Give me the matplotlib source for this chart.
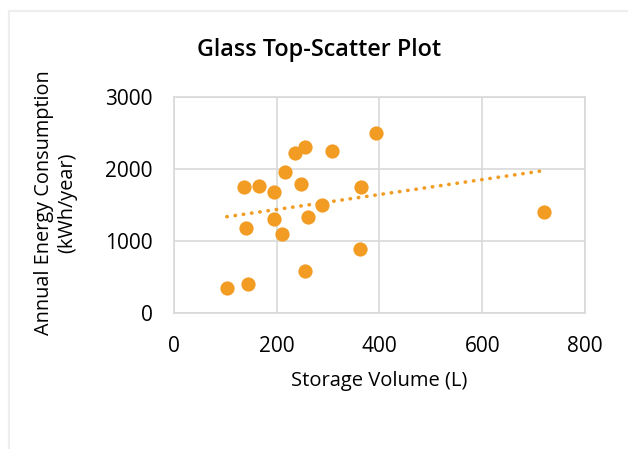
import numpy as np
import matplotlib
matplotlib.use("Agg")
import matplotlib.pyplot as plt
from matplotlib.patches import Rectangle

plt.rcParams['font.family'] = ['Open Sans', 'DejaVu Sans']

# storage volume (L) vs annual energy use (kWh/year)
volume = [393, 256, 235, 307, 217, 136, 165, 194, 248, 365,
          289, 195, 260, 140, 210, 720, 362, 256, 144, 103]
energy = [2500, 2310, 2220, 2255, 1955, 1750, 1765, 1675, 1790, 1755,
          1500, 1310, 1330, 1180, 1090, 1400, 885, 580, 405, 340]

x_ticks = [0, 200, 400, 600, 800]
y_ticks = [0, 1000, 2000, 3000]

orange = '#F39C24'
grid_col = '#D9D9D9'

fig = plt.figure(figsize=(6.28, 4.49), dpi=100)
# chart area border
fig.patches.append(Rectangle((9 / 628, -0.1), 1.2, 1 - 11 / 449 + 0.1,
                             transform=fig.transFigure, fill=False,
                             edgecolor='#EEEEEE', linewidth=1.6))

ax = fig.add_axes([0.277, 0.3036, 0.6545, 0.4797])
ax.scatter(volume, energy, s=105, color=orange, zorder=3, linewidths=0)

# linear trendline over the data range
coef = np.polyfit(volume, energy, 1)
xs = np.array([min(volume), max(volume)])
ax.plot(xs, np.polyval(coef, xs), color=orange, linestyle=(0, (0.1, 2.2)),
        linewidth=2.6, dash_capstyle='round', zorder=2)

ax.set_xlim(0, 800)
ax.set_ylim(0, 3000)
ax.set_xticks(x_ticks)
ax.set_yticks(y_ticks)
ax.tick_params(length=0, labelsize=15, colors='#000000')
ax.tick_params(axis='x', pad=16.5)
ax.tick_params(axis='y', pad=15.5)
ax.grid(True, color=grid_col, linewidth=1.2)
ax.set_axisbelow(True)
for s in ax.spines.values():
    s.set_color(grid_col)
    s.set_linewidth(1.2)

fig.text(379 / 628, 1 - 381 / 449, 'Storage Volume (L)', ha='center',
         va='center', fontsize=14.5)
fig.text(56 / 628, 1 - 203 / 449, 'Annual Energy Consumption\n(kWh/year)',
         rotation=90, ha='center', va='center', multialignment='center',
         fontsize=14.3, linespacing=1.2)
fig.text(319 / 628, 1 - 50 / 449, 'Glass Top-Scatter Plot', ha='center',
         va='center', fontsize=16.8, fontweight='semibold')

fig.savefig('out.png', dpi=100)
